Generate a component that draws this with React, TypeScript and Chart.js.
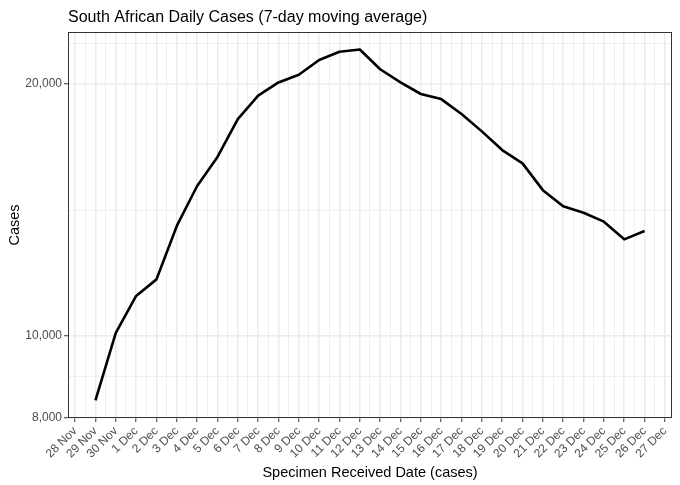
import React, { useEffect, useRef } from "react";
import { Chart, registerables } from "chart.js";

Chart.register(...registerables);

const TITLE = "South African Daily Cases (7-day moving average)";
const X_TITLE = "Specimen Received Date (cases)";
const Y_TITLE = "Cases";

const tickDates = [
  "28 Nov", "29 Nov", "30 Nov", "1 Dec", "2 Dec", "3 Dec", "4 Dec", "5 Dec",
  "6 Dec", "7 Dec", "8 Dec", "9 Dec", "10 Dec", "11 Dec", "12 Dec", "13 Dec",
  "14 Dec", "15 Dec", "16 Dec", "17 Dec", "18 Dec", "19 Dec", "20 Dec",
  "21 Dec", "22 Dec", "23 Dec", "24 Dec", "25 Dec", "26 Dec", "27 Dec",
];

const dataDates = [
  "29 Nov", "30 Nov", "1 Dec", "2 Dec", "3 Dec", "4 Dec", "5 Dec", "6 Dec",
  "7 Dec", "8 Dec", "9 Dec", "10 Dec", "11 Dec", "12 Dec", "13 Dec", "14 Dec",
  "15 Dec", "16 Dec", "17 Dec", "18 Dec", "19 Dec", "20 Dec", "21 Dec",
  "22 Dec", "23 Dec", "24 Dec", "25 Dec", "26 Dec",
];

const cases = [
  8380, 10090, 11170, 11690, 13540, 15110, 16370, 18160,
  19370, 20090, 20520, 21370, 21860, 21990, 20830, 20090,
  19460, 19190, 18420, 17560, 16680, 16080, 14940,
  14290, 14040, 13700, 13050, 13350,
];

const yMajorTicks = [8000, 10000, 20000];

const FONT = '"Liberation Sans", Arial, Helvetica, sans-serif';
const GRID = "#EBEBEB";
const DARK = "#333333";
const TICK_TEXT = "#4D4D4D";

function yMinorTicks(): number[] {
  const logs = yMajorTicks.map((v) => Math.log10(v));
  const bd = logs[1] - logs[0];
  const ext = [...logs, logs[logs.length - 1] + bd];
  const out: number[] = [];
  for (let i = 0; i < ext.length - 1; i++) out.push(Math.pow(10, (ext[i] + ext[i + 1]) / 2));
  return out;
}

export default function App() {
  const ref = useRef<HTMLCanvasElement | null>(null);

  useEffect(() => {
    if (!ref.current) return;
    const points = dataDates.map((d, i) => ({ x: tickDates.indexOf(d), y: cases[i] }));
    const minors = yMinorTicks();
    const yTickVals = [...yMajorTicks, ...minors].sort((a, b) => a - b);
    const isMajorY = (v: number) => yMajorTicks.some((m) => Math.abs(m - v) < 1e-6);

    const xTickVals: number[] = [];
    for (let i = 0; i < tickDates.length; i++) {
      xTickVals.push(i);
      if (i < tickDates.length - 1) xTickVals.push(i + 0.5);
    }
    const isMajorX = (v: number) => Number.isInteger(v);

    const logMin = Math.log10(Math.min(...cases));
    const logMax = Math.log10(Math.max(...cases));
    const pad = (logMax - logMin) * 0.05;

    const ggPlugin = {
      id: "ggText",
      afterDatasetsDraw(chart: any) {
        const { ctx, chartArea: a } = chart;
        ctx.save();
        ctx.strokeStyle = DARK;
        ctx.lineWidth = 1;
        ctx.strokeRect(a.left + 0.5, a.top + 0.5, a.right - a.left - 1, a.bottom - a.top - 1);
        ctx.restore();
      },
      afterDraw(chart: any) {
        const { ctx, chartArea: a } = chart;
        ctx.save();
        ctx.fillStyle = "#000000";
        ctx.font = `16px ${FONT}`;
        ctx.textAlign = "left";
        ctx.textBaseline = "alphabetic";
        ctx.fillText(TITLE, a.left, 22);
        ctx.font = `14.5px ${FONT}`;
        ctx.textAlign = "center";
        ctx.fillText(X_TITLE, (a.left + a.right) / 2, 477);
        ctx.translate(19, (a.top + a.bottom) / 2);
        ctx.rotate(-Math.PI / 2);
        ctx.fillText(Y_TITLE, 0, 0);
        ctx.restore();
      },
    };

    const chart = new Chart(ref.current, {
      type: "line",
      data: {
        datasets: [
          {
            data: points,
            borderColor: "#000000",
            borderWidth: 2.6,
            pointRadius: 0,
            tension: 0,
            fill: false,
            borderJoinStyle: "round",
          } as any,
        ],
      },
      options: {
        responsive: false,
        animation: false,
        layout: { padding: { top: 32, right: 8, left: 0, bottom: 0 } },
        plugins: {
          legend: { display: false },
          tooltip: { enabled: false },
          title: { display: false },
        },
        scales: {
          x: {
            type: "linear",
            min: -0.35,
            max: tickDates.length - 1 + 0.35,
            afterBuildTicks: (scale: any) => {
              scale.ticks = xTickVals.map((v) => ({ value: v }));
            },
            afterFit: (scale: any) => {
              scale.height = 67;
              scale.paddingLeft = 0;
              scale.paddingRight = 0;
            },
            border: { display: false },
            grid: {
              color: GRID,
              lineWidth: (ctx: any) => (ctx.tick && isMajorX(ctx.tick.value) ? 1.5 : 0.8),
              tickColor: (ctx: any) => (ctx.tick && isMajorX(ctx.tick.value) ? DARK : "rgba(0,0,0,0)"),
              tickWidth: 1,
              tickLength: 4,
              drawTicks: true,
            },
            ticks: {
              autoSkip: false,
              minRotation: 45,
              maxRotation: 45,
              padding: 2,
              color: TICK_TEXT,
              font: { family: FONT, size: 12 },
              callback: (v: any) => (isMajorX(Number(v)) ? tickDates[Number(v)] : ""),
            },
          },
          y: {
            type: "logarithmic",
            min: Math.pow(10, logMin - pad),
            max: Math.pow(10, logMax + pad),
            afterBuildTicks: (scale: any) => {
              scale.ticks = yTickVals.map((v) => ({ value: v }));
            },
            afterFit: (scale: any) => {
              scale.width = 68;
            },
            border: { display: false },
            grid: {
              color: GRID,
              lineWidth: (ctx: any) => (ctx.tick && isMajorY(ctx.tick.value) ? 1.5 : 0.8),
              tickColor: (ctx: any) => (ctx.tick && isMajorY(ctx.tick.value) ? DARK : "rgba(0,0,0,0)"),
              tickWidth: 1,
              tickLength: 4,
              drawTicks: true,
            },
            ticks: {
              autoSkip: false,
              padding: 2,
              color: TICK_TEXT,
              font: { family: FONT, size: 12 },
              callback: (v: any) => (isMajorY(Number(v)) ? Number(v).toLocaleString("en-US") : ""),
            },
          },
        },
      } as any,
      plugins: [ggPlugin],
    });
    return () => chart.destroy();
  }, []);

  return (
    <div style={{ position: "absolute", left: 0, top: 0, width: 680, height: 485, background: "#ffffff" }}>
      <canvas ref={ref} width={680} height={485} />
    </div>
  );
}
